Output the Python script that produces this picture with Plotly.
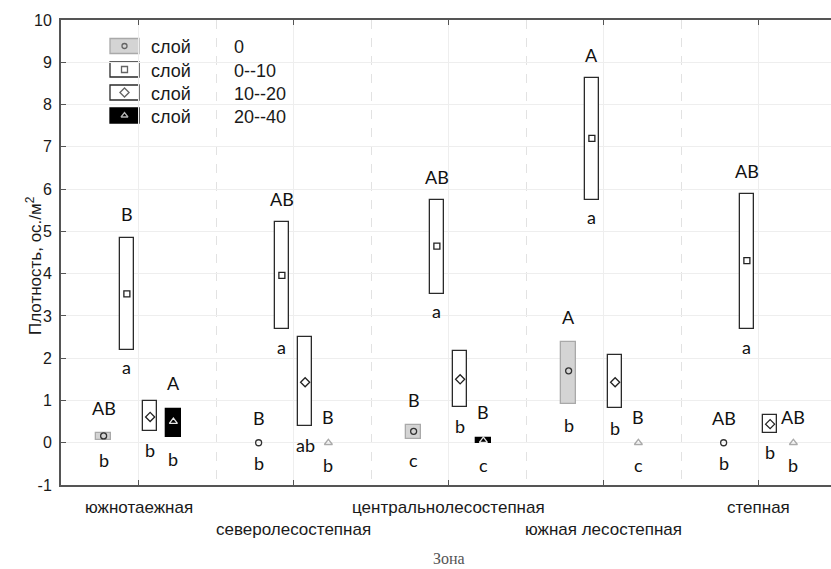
import plotly.graph_objects as go

# ---- data -------------------------------------------------------------
zones = ["южнотаежная", "северолесостепная", "центральнолесостепная",
         "южная лесостепная", "степная"]
layer_names = ["0", "0--10", "10--20", "20--40"]

# mean density and interval bounds, individuals per m2
mean_0 = [0.16, 0.0, 0.27, 1.70, 0.0]
low_0 = [0.06, 0.0, 0.08, 0.91, 0.0]
high_0 = [0.23, 0.0, 0.43, 2.39, 0.0]

mean_0_10 = [3.52, 3.96, 4.65, 7.20, 4.31]
low_0_10 = [2.19, 2.68, 3.53, 5.75, 2.68]
high_0_10 = [4.85, 5.21, 5.74, 8.63, 5.88]

mean_10_20 = [0.61, 1.43, 1.50, 1.43, 0.44]
low_10_20 = [0.27, 0.39, 0.85, 0.81, 0.22]
high_10_20 = [0.99, 2.51, 2.18, 2.08, 0.65]

mean_20_40 = [0.50, 0.0, 0.05, 0.0, 0.0]
low_20_40 = [0.14, 0.0, -0.01, 0.0, 0.0]
high_20_40 = [0.80, 0.0, 0.11, 0.0, 0.0]

# significance letters: upper case compare zones, lower case compare layers
zone_letters_0 = ["AB", "B", "B", "A", "AB"]
zone_letters_0_10 = ["B", "AB", "AB", "A", "AB"]
zone_letters_10_20 = ["", "", "", "", ""]
zone_letters_20_40 = ["A", "B", "B", "B", "AB"]
layer_letters_0 = ["b", "b", "c", "b", "b"]
layer_letters_0_10 = ["a", "a", "a", "a", "a"]
layer_letters_10_20 = ["b", "ab", "b", "b", "b"]
layer_letters_20_40 = ["b", "b", "c", "c", "b"]

y_ticks = list(range(-1, 11))

# ---- styling ----------------------------------------------------------
series = [
    dict(name=layer_names[0], mean=mean_0, low=low_0, high=high_0,
         up=zone_letters_0, down=layer_letters_0, shift=-0.225,
         fill="#d4d4d4", edge="#a9a9a9", symbol="circle-open", msize=6,
         mcolor="#333333", up_gap=0.59, down_gap=0.48),
    dict(name=layer_names[1], mean=mean_0_10, low=low_0_10, high=high_0_10,
         up=zone_letters_0_10, down=layer_letters_0_10, shift=-0.075,
         fill="white", edge="#2a2a2a", symbol="square-open", msize=6,
         mcolor="#222222", up_gap=0.55, down_gap=0.41),
    dict(name=layer_names[2], mean=mean_10_20, low=low_10_20, high=high_10_20,
         up=zone_letters_10_20, down=layer_letters_10_20, shift=0.075,
         fill="white", edge="#2a2a2a", symbol="diamond-open", msize=7,
         mcolor="#222222", up_gap=0.55, down_gap=0.45),
    dict(name=layer_names[3], mean=mean_20_40, low=low_20_40, high=high_20_40,
         up=zone_letters_20_40, down=layer_letters_20_40, shift=0.225,
         fill="black", edge="black", symbol="triangle-up-open", msize=7,
         mcolor="#aaaaaa", up_gap=0.62, down_gap=0.52),
]

SANS = "Liberation Sans, Arial, sans-serif"
TEXT = "#1a1a1a"
LETTER_FONT = dict(family="Lato, Carlito, sans-serif", size=18, color="#111111")
BOX_W = 0.095

L, T, B = 61, 20, 84
W, H = 831, 569
PW, PH = W - L, H - T - B


def px(x):
    """pixel column -> paper x"""
    return (x - L) / PW


def py(y):
    """pixel row -> paper y"""
    return (H - B - y) / PH


def marker_colors(s):
    # a marker sitting on a black box is drawn light so it stays visible
    return ["#e6e6e6" if (s["fill"] == "black" and h > l) else s["mcolor"]
            for h, l in zip(s["high"], s["low"])]


fig = go.Figure()

for s in series:
    xs = [i + s["shift"] for i in range(len(zones))]
    heights = [(h - l) if h > l else None for h, l in zip(s["high"], s["low"])]
    fig.add_trace(go.Bar(
        x=xs, y=heights, base=s["low"], width=BOX_W,
        marker=dict(color=s["fill"], line=dict(color=s["edge"], width=1.3)),
        showlegend=False, hoverinfo="skip"))

for s in series:
    xs = [i + s["shift"] for i in range(len(zones))]
    cols = marker_colors(s)
    fig.add_trace(go.Scatter(
        x=xs, y=s["mean"], mode="markers",
        marker=dict(symbol=s["symbol"], size=s["msize"], color=cols,
                    line=dict(width=1.3, color=cols)),
        showlegend=False, cliponaxis=False, hoverinfo="skip"))

# significance letters above / below each interval
for s in series:
    for i in range(len(zones)):
        x = i + s["shift"]
        if s["up"][i]:
            fig.add_annotation(x=x, y=s["high"][i] + s["up_gap"], text=s["up"][i],
                               xref="x", yref="y", showarrow=False,
                               font=LETTER_FONT)
        if s["down"][i]:
            fig.add_annotation(x=x, y=s["low"][i] - s["down_gap"], text=s["down"][i],
                               xref="x", yref="y", showarrow=False,
                               font=LETTER_FONT)

# zone names in two staggered rows below the axis
for i, z in enumerate(zones):
    fig.add_annotation(x=i, y=py(507 if i % 2 == 0 else 529), xref="x", yref="paper",
                       text=z, showarrow=False, yanchor="middle",
                       font=dict(family=SANS, size=17, color=TEXT))

fig.add_annotation(x=px(449), y=py(558), xref="paper", yref="paper", text="Зона",
                   showarrow=False, yanchor="middle",
                   font=dict(family="Liberation Serif, serif", size=16, color="#555555"))
fig.add_annotation(x=px(21), y=py(266), xref="paper", yref="paper", textangle=-90,
                   text="Плотность, ос./м<sup>2</sup>", showarrow=False,
                   font=dict(family=SANS, size=17, color=TEXT))

# legend: swatch box with the layer's mean marker, then the caption
legend_rows = [46, 69.5, 92.5, 115.5]
for s, yy in zip(series, legend_rows):
    fig.add_shape(type="rect", xref="paper", yref="paper", layer="between",
                  x0=px(110), x1=px(139), y0=py(yy + 7.5), y1=py(yy - 7.5),
                  fillcolor=s["fill"], line=dict(color=s["edge"], width=1.3))
    fig.add_annotation(x=px(149), y=py(yy + 1), xref="paper", yref="paper", text="слой",
                       xanchor="left", yanchor="middle", showarrow=False,
                       font=dict(family=SANS, size=18, color=TEXT))
    fig.add_annotation(x=px(232), y=py(yy + 1), xref="paper", yref="paper", text=s["name"],
                       xanchor="left", yanchor="middle", showarrow=False,
                       font=dict(family=SANS, size=18, color=TEXT))
legend_cols = ["#333333", "#222222", "#222222", "white"]
fig.add_trace(go.Scatter(
    x=[124.5] * 4, y=legend_rows, xaxis="x2", yaxis="y2", mode="markers",
    marker=dict(symbol=[s["symbol"] for s in series],
                size=[5, 6, 7, 6],
                color=legend_cols, line=dict(width=1.3, color=legend_cols)),
    showlegend=False, hoverinfo="skip"))

GRID = "#eeeeee"
fig.update_layout(
    width=W, height=H,
    margin=dict(l=L, r=0, t=T, b=B),
    paper_bgcolor="white", plot_bgcolor="white",
    barmode="overlay", bargap=0,
    showlegend=False,
    font=dict(family=SANS, size=15, color=TEXT),
    xaxis=dict(
        range=[-0.5, -0.5 + PW / 155.0],
        tickvals=list(range(len(zones))), showticklabels=False,
        ticks="inside", ticklen=5, tickcolor="#555555", tickwidth=1,
        showgrid=True, gridcolor=GRID, gridwidth=1,
        minor=dict(tickvals=[0.5, 1.5, 2.5, 3.5], showgrid=True,
                   gridcolor="#e2e2e2", griddash="dash", ticks=""),
        showline=True, linecolor="#555555", linewidth=2, mirror="ticks",
        zeroline=False, fixedrange=True),
    yaxis=dict(
        range=[-1, 10], tickvals=y_ticks, ticktext=[str(v) for v in y_ticks],
        ticks="inside", ticklen=5, tickcolor="#555555",
        showgrid=True, gridcolor=GRID, gridwidth=1,
        showline=True, linecolor="#555555", linewidth=2,
        zeroline=False, ticklabelstandoff=4,
        tickfont=dict(family=SANS, size=16, color=TEXT)),
    xaxis2=dict(range=[L, W], overlaying="x", visible=False, anchor="y2"),
    yaxis2=dict(range=[H - B, T], overlaying="y", visible=False, anchor="x2"),
)

fig.write_html("out.html")
